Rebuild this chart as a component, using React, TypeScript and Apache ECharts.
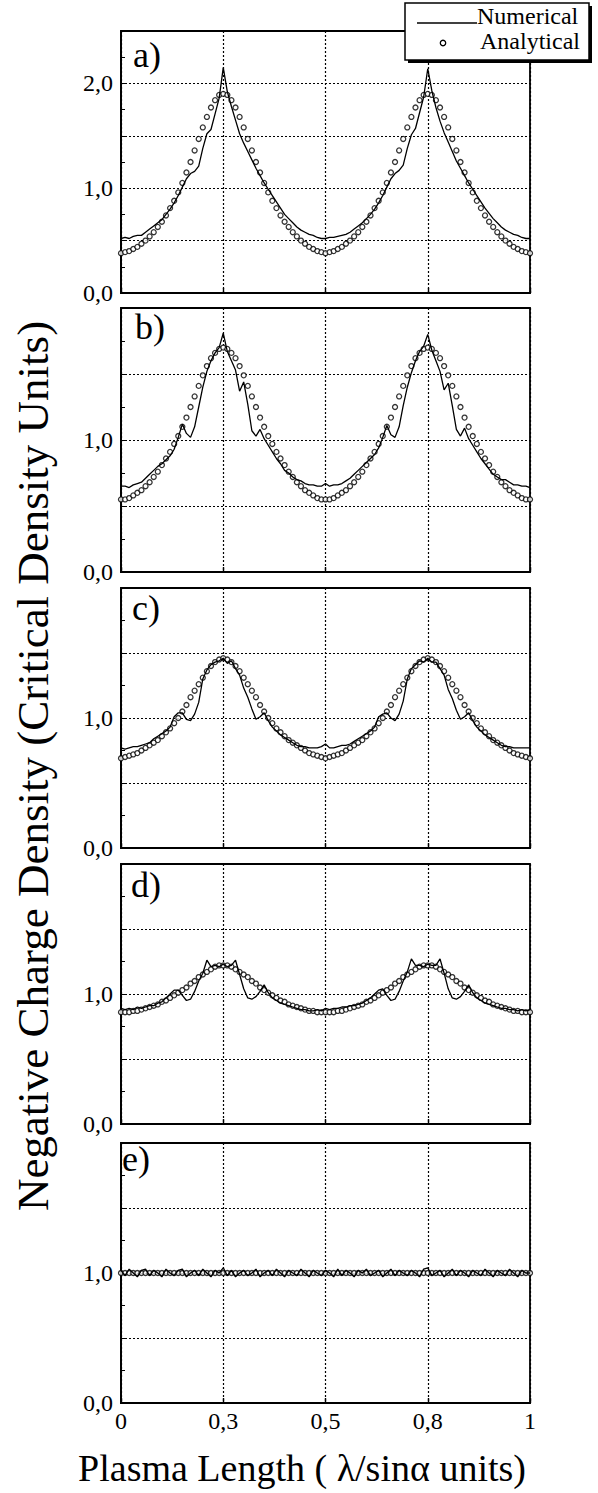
import React, { useEffect, useRef } from "react";
import * as echarts from "echarts";

// Sample positions along the plasma length (0 … 1, step 0.01)
const xPositions: number[] = Array.from({ length: 101 }, (_, i) => i / 100);

const xTickLabels: Record<string, string> = { "0": "0", "0.25": "0,3", "0.5": "0,5", "0.75": "0,8", "1": "1" };
const panelLabels = ["a)", "b)", "c)", "d)", "e)"];
const yMaxes = [2.5, 2, 2, 2, 2];
const legendNames = ["Numerical", "Analytical"];
const xTitle = "Plasma Length ( \u03bb/sin\u03b1 units)";
const yTitle = "Negative Charge Density (Critical Density Units)";

// ---------- panel a ----------
const analyticalA = [
  0.38, 0.39, 0.40, 0.42, 0.44, 0.47, 0.50, 0.54, 0.58, 0.63,
  0.68, 0.74, 0.81, 0.88, 0.96, 1.05, 1.15, 1.25, 1.36, 1.47,
  1.58, 1.68, 1.77, 1.84, 1.89, 1.90, 1.89, 1.84, 1.77, 1.68,
  1.58, 1.47, 1.36, 1.25, 1.15, 1.05, 0.96, 0.88, 0.81, 0.74,
  0.68, 0.63, 0.58, 0.54, 0.50, 0.47, 0.44, 0.42, 0.40, 0.39,
  0.38, 0.39, 0.40, 0.42, 0.44, 0.47, 0.50, 0.54, 0.58, 0.63,
  0.68, 0.74, 0.81, 0.88, 0.96, 1.05, 1.15, 1.25, 1.36, 1.47,
  1.58, 1.68, 1.77, 1.84, 1.89, 1.90, 1.89, 1.84, 1.77, 1.68,
  1.58, 1.47, 1.36, 1.25, 1.15, 1.05, 0.96, 0.88, 0.81, 0.74,
  0.68, 0.63, 0.58, 0.54, 0.50, 0.47, 0.44, 0.42, 0.40, 0.39,
  0.38,
];
const numericalA = [
  0.52, 0.53, 0.52, 0.54, 0.55, 0.55, 0.58, 0.61, 0.64, 0.67,
  0.70, 0.75, 0.80, 0.86, 0.93, 1.01, 1.09, 1.14, 1.16, 1.21,
  1.38, 1.52, 1.56, 1.71, 1.86, 2.15, 1.92, 1.78, 1.65, 1.52,
  1.43, 1.35, 1.27, 1.19, 1.12, 1.05, 0.99, 0.93, 0.87, 0.81,
  0.75, 0.71, 0.67, 0.63, 0.60, 0.58, 0.56, 0.55, 0.53, 0.52,
  0.52, 0.53, 0.53, 0.54, 0.55, 0.56, 0.58, 0.61, 0.64, 0.67,
  0.71, 0.75, 0.80, 0.86, 0.93, 1.01, 1.09, 1.14, 1.17, 1.22,
  1.38, 1.51, 1.57, 1.72, 1.87, 2.14, 1.93, 1.77, 1.64, 1.53,
  1.44, 1.35, 1.26, 1.19, 1.12, 1.05, 0.99, 0.93, 0.87, 0.81,
  0.76, 0.71, 0.67, 0.63, 0.60, 0.58, 0.56, 0.55, 0.53, 0.52,
  0.52,
];

// ---------- panel b ----------
const analyticalB = [
  0.55, 0.55, 0.56, 0.58, 0.60, 0.62, 0.65, 0.68, 0.72, 0.76,
  0.81, 0.86, 0.91, 0.97, 1.03, 1.10, 1.17, 1.25, 1.33, 1.41,
  1.49, 1.56, 1.62, 1.66, 1.69, 1.70, 1.69, 1.66, 1.62, 1.56,
  1.49, 1.41, 1.33, 1.25, 1.17, 1.10, 1.03, 0.97, 0.91, 0.86,
  0.81, 0.76, 0.72, 0.68, 0.65, 0.62, 0.60, 0.58, 0.56, 0.55,
  0.55, 0.55, 0.56, 0.58, 0.60, 0.62, 0.65, 0.68, 0.72, 0.76,
  0.81, 0.86, 0.91, 0.97, 1.03, 1.10, 1.17, 1.25, 1.33, 1.41,
  1.49, 1.56, 1.62, 1.66, 1.69, 1.70, 1.69, 1.66, 1.62, 1.56,
  1.49, 1.41, 1.33, 1.25, 1.17, 1.10, 1.03, 0.97, 0.91, 0.86,
  0.81, 0.76, 0.72, 0.68, 0.65, 0.62, 0.60, 0.58, 0.56, 0.55,
  0.55,
];
const numericalB = [
  0.65, 0.65, 0.64, 0.66, 0.67, 0.68, 0.71, 0.74, 0.77, 0.80,
  0.82, 0.85, 0.88, 0.93, 1.02, 1.12, 1.05, 1.02, 1.10, 1.25,
  1.40, 1.52, 1.60, 1.66, 1.70, 1.81, 1.67, 1.60, 1.53, 1.37,
  1.44, 1.27, 1.07, 1.03, 1.08, 1.01, 0.96, 0.91, 0.86, 0.82,
  0.77, 0.75, 0.72, 0.70, 0.69, 0.67, 0.66, 0.66, 0.65, 0.65,
  0.67, 0.65, 0.66, 0.66, 0.67, 0.69, 0.71, 0.74, 0.77, 0.80,
  0.83, 0.86, 0.89, 0.94, 1.02, 1.11, 1.04, 1.02, 1.10, 1.26,
  1.40, 1.51, 1.60, 1.67, 1.71, 1.80, 1.68, 1.60, 1.52, 1.38,
  1.43, 1.26, 1.08, 1.03, 1.09, 1.01, 0.96, 0.91, 0.86, 0.82,
  0.78, 0.74, 0.72, 0.70, 0.70, 0.68, 0.66, 0.66, 0.65, 0.65,
  0.64,
];

// ---------- panel c ----------
const analyticalC = [
  0.69, 0.70, 0.71, 0.72, 0.73, 0.75, 0.77, 0.79, 0.81, 0.83,
  0.86, 0.89, 0.92, 0.96, 1.00, 1.05, 1.10, 1.16, 1.21, 1.26,
  1.31, 1.36, 1.40, 1.43, 1.45, 1.46, 1.45, 1.43, 1.40, 1.36,
  1.31, 1.26, 1.21, 1.16, 1.10, 1.05, 1.00, 0.96, 0.92, 0.89,
  0.86, 0.83, 0.81, 0.79, 0.77, 0.75, 0.73, 0.72, 0.71, 0.70,
  0.69, 0.70, 0.71, 0.72, 0.73, 0.75, 0.77, 0.79, 0.81, 0.83,
  0.86, 0.89, 0.92, 0.96, 1.00, 1.05, 1.10, 1.16, 1.21, 1.26,
  1.31, 1.36, 1.40, 1.43, 1.45, 1.46, 1.45, 1.43, 1.40, 1.36,
  1.31, 1.26, 1.21, 1.16, 1.10, 1.05, 1.00, 0.96, 0.92, 0.89,
  0.86, 0.83, 0.81, 0.79, 0.77, 0.75, 0.73, 0.72, 0.71, 0.70,
  0.69,
];
const numericalC = [
  0.77, 0.76, 0.77, 0.78, 0.78, 0.79, 0.80, 0.81, 0.84, 0.86,
  0.88, 0.90, 0.93, 1.01, 1.04, 1.04, 0.99, 0.98, 1.03, 1.12,
  1.30, 1.37, 1.41, 1.43, 1.44, 1.46, 1.42, 1.44, 1.38, 1.33,
  1.23, 1.16, 1.07, 0.99, 1.01, 1.04, 0.98, 0.93, 0.90, 0.87,
  0.85, 0.83, 0.81, 0.79, 0.78, 0.78, 0.77, 0.77, 0.77, 0.78,
  0.80, 0.77, 0.77, 0.78, 0.79, 0.79, 0.80, 0.82, 0.84, 0.86,
  0.88, 0.90, 0.93, 1.01, 1.03, 1.04, 1.00, 0.98, 1.03, 1.13,
  1.30, 1.38, 1.41, 1.44, 1.43, 1.46, 1.43, 1.43, 1.38, 1.33,
  1.22, 1.15, 1.06, 0.99, 1.01, 1.04, 0.98, 0.93, 0.90, 0.87,
  0.85, 0.83, 0.81, 0.79, 0.78, 0.78, 0.77, 0.77, 0.77, 0.77,
  0.77,
];

// ---------- panel d ----------
const analyticalD = [
  0.86, 0.86, 0.86, 0.87, 0.87, 0.88, 0.89, 0.90, 0.91, 0.92,
  0.94, 0.95, 0.97, 0.99, 1.01, 1.03, 1.05, 1.08, 1.10, 1.13,
  1.15, 1.17, 1.19, 1.21, 1.22, 1.22, 1.22, 1.21, 1.19, 1.17,
  1.15, 1.13, 1.10, 1.08, 1.05, 1.03, 1.01, 0.99, 0.97, 0.95,
  0.94, 0.92, 0.91, 0.90, 0.89, 0.88, 0.87, 0.87, 0.86, 0.86,
  0.86, 0.86, 0.86, 0.87, 0.87, 0.88, 0.89, 0.90, 0.91, 0.92,
  0.94, 0.95, 0.97, 0.99, 1.01, 1.03, 1.05, 1.08, 1.10, 1.13,
  1.15, 1.17, 1.19, 1.21, 1.22, 1.22, 1.22, 1.21, 1.19, 1.17,
  1.15, 1.13, 1.10, 1.08, 1.05, 1.03, 1.01, 0.99, 0.97, 0.95,
  0.94, 0.92, 0.91, 0.90, 0.89, 0.88, 0.87, 0.87, 0.86, 0.86,
  0.86,
];
const numericalD = [
  0.89, 0.88, 0.89, 0.88, 0.90, 0.89, 0.90, 0.91, 0.91, 0.93,
  0.94, 0.97, 1.00, 1.03, 1.03, 0.99, 0.95, 0.96, 1.02, 1.10,
  1.16, 1.26, 1.21, 1.22, 1.21, 1.23, 1.21, 1.22, 1.26, 1.15,
  1.04, 0.97, 0.96, 0.98, 1.02, 1.07, 1.01, 0.97, 0.95, 0.93,
  0.92, 0.91, 0.90, 0.89, 0.88, 0.88, 0.87, 0.87, 0.88, 0.87,
  0.89, 0.88, 0.89, 0.89, 0.90, 0.90, 0.91, 0.91, 0.92, 0.93,
  0.95, 0.97, 1.00, 1.03, 1.04, 0.99, 0.95, 0.96, 1.02, 1.10,
  1.17, 1.27, 1.22, 1.22, 1.21, 1.23, 1.22, 1.22, 1.27, 1.16,
  1.04, 0.97, 0.96, 0.98, 1.02, 1.07, 1.01, 0.97, 0.95, 0.93,
  0.92, 0.91, 0.90, 0.89, 0.89, 0.88, 0.88, 0.87, 0.88, 0.87,
  0.88,
];

// ---------- panel e ----------
const analyticalE = [
  1.00, 1.00, 1.00, 1.00, 1.00, 1.00, 1.00, 1.00, 1.00, 1.00,
  1.00, 1.00, 1.00, 1.00, 1.00, 1.00, 1.00, 1.00, 1.00, 1.00,
  1.00, 1.00, 1.00, 1.00, 1.00, 1.00, 1.00, 1.00, 1.00, 1.00,
  1.00, 1.00, 1.00, 1.00, 1.00, 1.00, 1.00, 1.00, 1.00, 1.00,
  1.00, 1.00, 1.00, 1.00, 1.00, 1.00, 1.00, 1.00, 1.00, 1.00,
  1.00, 1.00, 1.00, 1.00, 1.00, 1.00, 1.00, 1.00, 1.00, 1.00,
  1.00, 1.00, 1.00, 1.00, 1.00, 1.00, 1.00, 1.00, 1.00, 1.00,
  1.00, 1.00, 1.00, 1.00, 1.00, 1.00, 1.00, 1.00, 1.00, 1.00,
  1.00, 1.00, 1.00, 1.00, 1.00, 1.00, 1.00, 1.00, 1.00, 1.00,
  1.00, 1.00, 1.00, 1.00, 1.00, 1.00, 1.00, 1.00, 1.00, 1.00,
  1.00,
];
const numericalE = [
  1.02, 0.98, 1.03, 1.00, 0.97, 1.02, 1.03, 0.98, 1.02, 1.00,
  0.97, 1.03, 1.00, 0.98, 1.02, 1.03, 0.97, 1.00, 1.02, 0.98,
  1.03, 1.00, 0.97, 1.02, 1.00, 1.04, 0.98, 1.02, 0.97, 1.00,
  1.02, 0.98, 1.00, 1.03, 0.97, 1.00, 1.02, 0.98, 1.03, 1.00,
  0.97, 1.02, 1.00, 0.98, 1.03, 1.00, 0.97, 1.02, 1.00, 0.98,
  1.02, 1.00, 0.97, 1.03, 0.98, 1.02, 1.00, 0.97, 1.02, 1.00,
  1.03, 0.98, 1.00, 1.02, 0.97, 1.00, 1.03, 0.98, 1.02, 1.00,
  0.98, 1.02, 1.00, 0.97, 1.03, 1.04, 0.98, 1.00, 1.02, 0.97,
  1.00, 1.03, 0.98, 1.02, 1.00, 0.97, 1.02, 1.00, 0.98, 1.03,
  1.00, 0.97, 1.02, 1.00, 0.98, 1.03, 1.00, 0.97, 1.02, 1.00,
  1.00,
];

const analyticalSets = [analyticalA, analyticalB, analyticalC, analyticalD, analyticalE];
const numericalSets = [numericalA, numericalB, numericalC, numericalD, numericalE];

// layout (pixels)
const panelTops = [31, 308, 588, 864, 1143];
const panelHeights = [262, 264, 260, 260, 260];
const GRID_LEFT = 121;
const GRID_RIGHT = 68;
const SERIF = "Liberation Serif, serif";

export default function App() {
  const ref = useRef<HTMLDivElement>(null);

  useEffect(() => {
    if (!ref.current) return;
    const chart = echarts.init(ref.current, null, { renderer: "svg" });

    const grids = panelTops.map((top, i) => ({
      left: GRID_LEFT,
      right: GRID_RIGHT,
      top,
      height: panelHeights[i],
      show: true,
      borderColor: "#000",
      borderWidth: 1.8,
      backgroundColor: "transparent",
    }));

    const xAxes = panelTops.map((_, i) => ({
      type: "value",
      gridIndex: i,
      min: 0,
      max: 1,
      interval: 0.25,
      axisLine: { show: true, onZero: false, lineStyle: { color: "#000", width: 1.8 } },
      axisTick: { show: true, inside: true, length: 5, lineStyle: { color: "#000", width: 1.4 } },
      axisLabel: {
        show: i === 4,
        color: "#000",
        fontSize: 24,
        fontFamily: SERIF,
        margin: 6,
        formatter: (v: number) => xTickLabels[String(+v.toFixed(2))] ?? "",
      },
      splitLine: { show: true, lineStyle: { color: "#000", type: [2, 2], width: 1.2 } },
    }));

    const yAxes = yMaxes.map((max, i) => ({
      type: "value",
      gridIndex: i,
      min: 0,
      max,
      interval: 0.5,
      axisLine: { show: true, lineStyle: { color: "#000", width: 1.8 } },
      axisTick: { show: true, inside: true, length: 4, lineStyle: { color: "#000", width: 1 } },
      minorTick: { show: true, splitNumber: 2, length: 4, lineStyle: { color: "#000", width: 1 } },
      axisLabel: {
        color: "#000",
        fontSize: 24,
        fontFamily: SERIF,
        margin: 8,
        formatter: (v: number) => {
          const r = Math.round(v);
          return Math.abs(v - r) < 1e-6 && v < max - 1e-6 ? r.toFixed(1).replace(".", ",") : "";
        },
      },
      splitLine: { show: true, lineStyle: { color: "#000", type: [2, 2], width: 1.2 } },
    }));

    const series: any[] = [];
    panelTops.forEach((_, i) => {
      series.push({
        name: legendNames[1],
        type: "scatter",
        xAxisIndex: i,
        yAxisIndex: i,
        data: xPositions.map((x, k) => [x, analyticalSets[i][k]]),
        symbol: "circle",
        symbolSize: 5,
        itemStyle: { color: "#fff", borderColor: "#000", borderWidth: 1.3 },
        z: 2,
        silent: true,
      });
      series.push({
        name: legendNames[0],
        type: "line",
        xAxisIndex: i,
        yAxisIndex: i,
        data: xPositions.map((x, k) => [x, numericalSets[i][k]]),
        showSymbol: false,
        symbol: "none",
        lineStyle: { color: "#000", width: 1.3 },
        z: 3,
        silent: true,
      });
    });

    const labelPos = [
      [133, 55],
      [135, 327],
      [132, 608],
      [131, 885],
      [122, 1159],
    ];

    const graphic: any[] = [
      ...panelLabels.map((t, i) => ({
        type: "text",
        x: labelPos[i][0],
        y: labelPos[i][1],
        z: 50,
        style: { text: t, fill: "#000", fontSize: 36, fontFamily: SERIF, textAlign: "left", textVerticalAlign: "middle" },
      })),
      // legend box with shadow
      { type: "rect", z: 100, shape: { x: 408, y: 6, width: 184, height: 57 }, style: { fill: "#000" } },
      { type: "rect", z: 101, shape: { x: 405, y: 3, width: 184, height: 57 }, style: { fill: "#fff", stroke: "#000", lineWidth: 1.5 } },
      { type: "line", z: 102, shape: { x1: 417, y1: 23, x2: 477, y2: 23 }, style: { stroke: "#000", lineWidth: 1.3 } },
      {
        type: "text", z: 102, x: 477, y: 16,
        style: { text: legendNames[0], fill: "#000", fontSize: 24, fontFamily: SERIF, textAlign: "left", textVerticalAlign: "middle" },
      },
      { type: "circle", z: 102, shape: { cx: 443, cy: 43, r: 2.7 }, style: { fill: "#fff", stroke: "#000", lineWidth: 1.3 } },
      {
        type: "text", z: 102, x: 480, y: 41,
        style: { text: legendNames[1], fill: "#000", fontSize: 24, fontFamily: SERIF, textAlign: "left", textVerticalAlign: "middle" },
      },
      // axis titles
      {
        type: "text", z: 50, x: 33, y: 766, rotation: Math.PI / 2,
        style: { text: yTitle, fill: "#000", fontSize: 45, fontFamily: SERIF, textAlign: "center", textVerticalAlign: "middle" },
      },
      {
        type: "text", z: 50, x: 302, y: 1468,
        style: { text: xTitle, fill: "#000", fontSize: 38, fontFamily: SERIF, textAlign: "center", textVerticalAlign: "middle" },
      },
    ];

    chart.setOption({
      animation: false,
      backgroundColor: "#fff",
      grid: grids,
      xAxis: xAxes,
      yAxis: yAxes,
      series,
      graphic,
    });

    return () => chart.dispose();
  }, []);

  return <div ref={ref} style={{ position: "absolute", left: 0, top: 0, width: 598, height: 1493 }} />;
}
